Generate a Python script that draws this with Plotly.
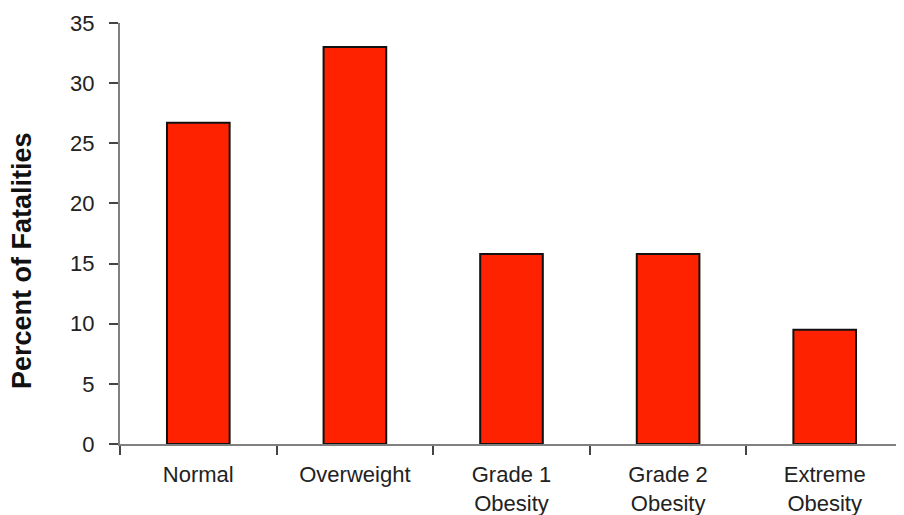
import plotly.graph_objects as go

categories = ["Normal", "Overweight", "Grade 1<br>Obesity", "Grade 2<br>Obesity", "Extreme<br>Obesity"]
values = [26.7, 33.0, 15.8, 15.8, 9.5]
y_ticks = [0, 5, 10, 15, 20, 25, 30, 35]
y_title = "Percent of Fatalities"

font_family = "Liberation Sans, Arial, sans-serif"

fig = go.Figure(
    go.Bar(
        x=categories,
        y=values,
        marker=dict(color="#FF2200", line=dict(color="#111111", width=2)),
        hoverinfo="skip",
    )
)

# the page body adds an 8px margin around the figure, so the figure is 8px smaller
fig.update_layout(
    width=896,
    height=507,
    margin=dict(l=112, r=1, t=15, b=71, autoexpand=False),
    paper_bgcolor="white",
    plot_bgcolor="white",
    bargap=0.6,
    showlegend=False,
    font=dict(family=font_family, size=22, color="#222222"),
)

fig.update_xaxes(
    automargin=False,
    showline=True,
    linecolor="#808080",
    linewidth=2,
    ticks="outside",
    tickson="boundaries",
    ticklen=9,
    tickwidth=2,
    tickcolor="#444444",
    showgrid=False,
    ticklabelstandoff=10,
    tickfont=dict(size=22, color="#222222"),
)

fig.update_yaxes(
    automargin=False,
    range=[0, 35],
    tickvals=y_ticks,
    showline=True,
    linecolor="#808080",
    linewidth=2,
    ticks="outside",
    ticklen=9,
    tickwidth=2,
    tickcolor="#444444",
    showgrid=False,
    zeroline=False,
    ticklabelstandoff=10,
    tickfont=dict(size=22, color="#222222"),
)

fig.add_annotation(
    text="<b>" + y_title + "</b>",
    xref="paper",
    yref="paper",
    x=-0.1252,
    y=0.437,
    xanchor="center",
    yanchor="middle",
    textangle=-90,
    showarrow=False,
    font=dict(size=27, color="#111111"),
)

fig.write_html("out.html")
